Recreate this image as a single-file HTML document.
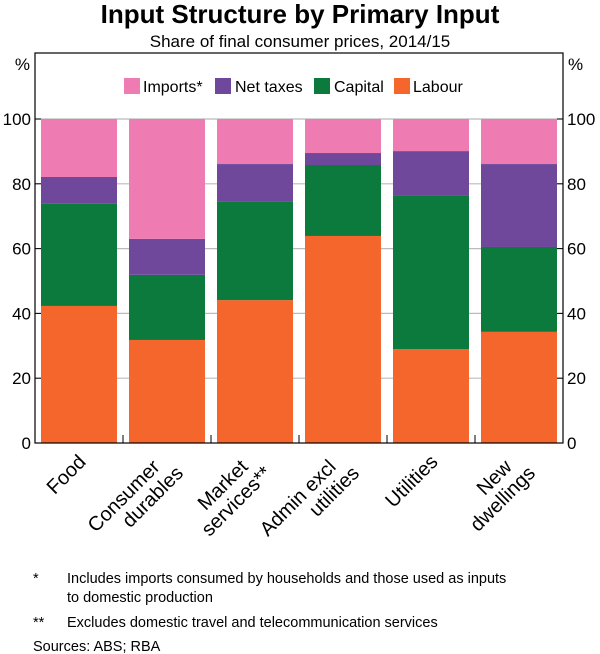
<!DOCTYPE html>
<html><head><meta charset="utf-8"><style>
body{margin:0;background:#fff}
svg{display:block;font-family:"Liberation Sans",Arial,sans-serif}
</style></head><body>
<svg id="c" width="600" height="654" viewBox="0 0 600 654">
<text x="300" y="23" text-anchor="middle" font-size="26" font-weight="bold">Input Structure by Primary Input</text>
<text x="300" y="47" text-anchor="middle" font-size="17">Share of final consumer prices, 2014/15</text>
<g id="grid"></g><g id="bars"></g>
<rect x="35" y="53" width="528" height="390" fill="none" stroke="#000" stroke-width="1.2"/>
<text x="30" y="70" text-anchor="end" font-size="17">%</text>
<text x="568" y="70" font-size="17">%</text>
<g id="ticks"></g><g id="labels"></g>
<g font-size="16">
<rect x="124" y="78" width="16" height="16" fill="#ef7bb3"/>
<text x="143" y="92">Imports*</text>
<rect x="215" y="78" width="16" height="16" fill="#6f489c"/>
<text x="235" y="92">Net taxes</text>
<rect x="314" y="78" width="16" height="16" fill="#0b7a3c"/>
<text x="334" y="92">Capital</text>
<rect x="394" y="78" width="16" height="16" fill="#f4662b"/>
<text x="413" y="92">Labour</text>
</g>
<g font-size="14.5">
<text x="33" y="583">*</text><text x="67" y="583">Includes imports consumed by households and those used as inputs</text>
<text x="67" y="602">to domestic production</text>
<text x="33" y="627">**</text><text x="67" y="627">Excludes domestic travel and telecommunication services</text>
<text x="33" y="651">Sources: ABS; RBA</text>
</g>
</svg>
<script>
const categories=[["Food"],["Consumer","durables"],["Market","services**"],["Admin excl","utilities"],["Utilities"],["New","dwellings"]];
const labour=[42.3,31.8,44.1,63.9,29,34.3];
const capital=[31.5,20.1,30.4,21.9,47.5,26.2];
const netTaxes=[8.3,11.1,11.6,3.7,13.6,25.6];
const imports=[17.9,37,13.9,10.5,9.9,13.9];
const yTicks=[0,20,40,60,80,100];
const series=[["labour",labour,"#f4662b"],["capital",capital,"#0b7a3c"],["net-taxes",netTaxes,"#6f489c"],["imports",imports,"#ef7bb3"]];
const NS="http://www.w3.org/2000/svg";
const L=35,R=563,T=119,B=443;
const y=v=>B-(v/100)*(B-T);
const slot=(R-L)/categories.length;
const xc=i=>L+slot*(i+0.5);
const bw=76;
function mk(t,a,p){const e=document.createElementNS(NS,t);for(const k in a)e.setAttribute(k,a[k]);p.appendChild(e);return e;}
const grid=document.getElementById('grid'),ticks=document.getElementById('ticks'),bars=document.getElementById('bars'),labels=document.getElementById('labels');
yTicks.forEach(v=>{
 if(v>0){const g=mk('line',{x1:L,x2:R,y1:y(v),y2:y(v),stroke:'#bbb','stroke-width':1.2},grid);
 
 }
 const a=mk('line',{x1:L,x2:L+6,y1:y(v),y2:y(v),stroke:'#000'},ticks);
 
 
 const b=mk('line',{x1:R-6,x2:R,y1:y(v),y2:y(v),stroke:'#000'},ticks);
 
 
 const t1=mk('text',{x:L-4,y:y(v)+6,'text-anchor':'end','font-size':17},ticks);t1.textContent=v;
 
 
 const t2=mk('text',{x:R+4,y:y(v)+6,'font-size':17},ticks);t2.textContent=v;
 
 
});
for(let i=1;i<categories.length;i++){
 const t=mk('line',{x1:L+slot*i,x2:L+slot*i,y1:B,y2:B-8,stroke:'#000'},ticks);
 
 
}
categories.forEach((c,i)=>{
 let base=0;
 series.forEach(([n,arr,col])=>{
  const v=arr[i];
  const r=mk('rect',{x:xc(i)-bw/2,y:y(base+v),width:bw,height:y(base)-y(base+v),fill:col},bars);
  
  
  base+=v;
 });
 const ax=xc(i)+(c.length>1?-6:8), ay=c.length>1?468:463;
 const t=mk('text',{transform:`translate(${ax},${ay}) rotate(-45)`,'text-anchor':'end','font-size':20},labels);
 
 
 c.forEach((line,j)=>{const s=mk('tspan',{x:j?12:0,y:j*21},t);s.textContent=line;});
});
</script>
</body></html>
